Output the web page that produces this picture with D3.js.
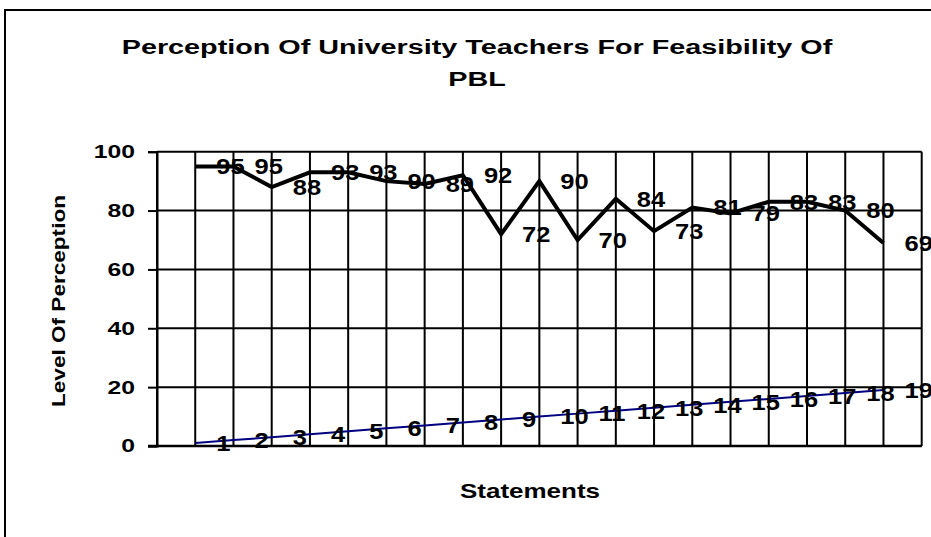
<!DOCTYPE html>
<html>
<head>
<meta charset="utf-8">
<script src="https://cdn.jsdelivr.net/npm/d3@7"></script>
<style>
  body { margin: 0; background: #fff; }
  text { font-family: "Liberation Sans", Arial, sans-serif; font-weight: bold; fill: #000; }
</style>
</head>
<body>
<div id="svgcontainer"></div>
<script>
// chart data
var statementNos = [1, 2, 3, 4, 5, 6, 7, 8, 9, 10, 11, 12, 13, 14, 15, 16, 17, 18, 19];
var perception = [95, 95, 88, 93, 93, 90, 89, 92, 72, 90, 70, 84, 73, 81, 79, 83, 83, 80, 69];
var yTicks = [0, 20, 40, 60, 80, 100];
var titleLines = ["Perception Of University Teachers For Feasibility Of", "PBL"];

var svgWidth = 931;
var svgHeight = 537;

var margin = { top: 151.7, right: 9.3, bottom: 91, left: 157 };
var width = svgWidth - margin.left - margin.right;
var height = svgHeight - margin.top - margin.bottom;

var svg = d3.select("#svgcontainer")
  .append("svg")
  .attr("width", svgWidth)
  .attr("height", svgHeight);

// outer chart frame (runs off the right and bottom)
svg.append("rect")
  .attr("x", 5)
  .attr("y", 10)
  .attr("width", 960)
  .attr("height", 560)
  .attr("fill", "none")
  .attr("stroke", "#000")
  .attr("stroke-width", 2);

// text is drawn a bit wide, like the original picture
function wideText(sel, x, y, sx) {
  return sel.attr("transform", `translate(${x}, ${y}) scale(${sx}, 1)`);
}

var chartGroup = svg.append("g")
  .attr("transform", `translate(${margin.left}, ${margin.top})`);

var xScale = d3.scaleLinear()
  .domain([0, statementNos.length + 1])
  .range([0, width]);

var yScale = d3.scaleLinear()
  .domain([0, 100])
  .range([height, 0]);

// vertical grid
chartGroup.append("g")
  .selectAll("line")
  .data(xScale.ticks(statementNos.length + 1))
  .enter()
  .append("line")
  .attr("x1", d => xScale(d))
  .attr("x2", d => xScale(d))
  .attr("y1", 0)
  .attr("y2", height)
  .attr("stroke", "#000")
  .attr("stroke-width", 2);

// horizontal grid
chartGroup.append("g")
  .selectAll("line")
  .data(yTicks)
  .enter()
  .append("line")
  .attr("x1", 0)
  .attr("x2", width)
  .attr("y1", d => yScale(d))
  .attr("y2", d => yScale(d))
  .attr("stroke", "#000")
  .attr("stroke-width", 2);

// y axis
var leftAxis = d3.axisLeft(yScale).tickValues(yTicks).tickSize(9).tickFormat("");
var yAxis = chartGroup.append("g").call(leftAxis);
yAxis.select(".domain").attr("stroke-width", 2);
yAxis.selectAll(".tick line").attr("stroke-width", 2);

chartGroup.selectAll(".ylab")
  .data(yTicks)
  .enter()
  .append("text")
  .attr("class", "ylab")
  .attr("text-anchor", "end")
  .attr("dominant-baseline", "central")
  .attr("font-size", 19)
  .text(d => d)
  .each(function (d) { wideText(d3.select(this), -22, yScale(d), 1.3); });

// x axis line (no labels)
chartGroup.append("line")
  .attr("x1", -9)
  .attr("x2", width)
  .attr("y1", height)
  .attr("y2", height)
  .attr("stroke", "#000")
  .attr("stroke-width", 2.5);

// statement number series
var line = d3.line()
  .x((d, i) => xScale(i + 1))
  .y(d => yScale(d));

chartGroup.append("path")
  .datum(statementNos)
  .attr("d", line)
  .attr("fill", "none")
  .attr("stroke", "#000080")
  .attr("stroke-width", 2);

// perception series
chartGroup.append("path")
  .datum(perception)
  .attr("d", line)
  .attr("fill", "none")
  .attr("stroke", "#000")
  .attr("stroke-width", 4)
  .attr("stroke-linejoin", "miter");

// data labels sit to the right of each point
chartGroup.selectAll(".numlab")
  .data(statementNos)
  .enter()
  .append("text")
  .attr("class", "numlab")
  .attr("dominant-baseline", "central")
  .attr("font-size", 22)
  .text(d => d)
  .each(function (d, i) { wideText(d3.select(this), xScale(i + 1) + 21, yScale(d), 1.16); });

chartGroup.selectAll(".vallab")
  .data(perception)
  .enter()
  .append("text")
  .attr("class", "vallab")
  .attr("dominant-baseline", "central")
  .attr("font-size", 22)
  .text(d => d)
  .each(function (d, i) { wideText(d3.select(this), xScale(i + 1) + 21, yScale(d), 1.16); });

// titles
svg.selectAll(".title")
  .data(titleLines)
  .enter()
  .append("text")
  .attr("class", "title")
  .attr("text-anchor", "middle")
  .attr("font-size", 21)
  .text(d => d)
  .each(function (d, i) { wideText(d3.select(this), 477, 54 + i * 32, 1.37); });

wideText(svg.append("text"), 530, 498, 1.3)
  .attr("text-anchor", "middle")
  .attr("font-size", 20)
  .text("Statements");

svg.append("text")
  .attr("text-anchor", "middle")
  .attr("font-size", 19)
  .attr("textLength", 212)
  .attr("lengthAdjust", "spacingAndGlyphs")
  .attr("transform", "translate(65, 301) rotate(-90)")
  .text("Level Of Perception");
</script>
</body>
</html>
